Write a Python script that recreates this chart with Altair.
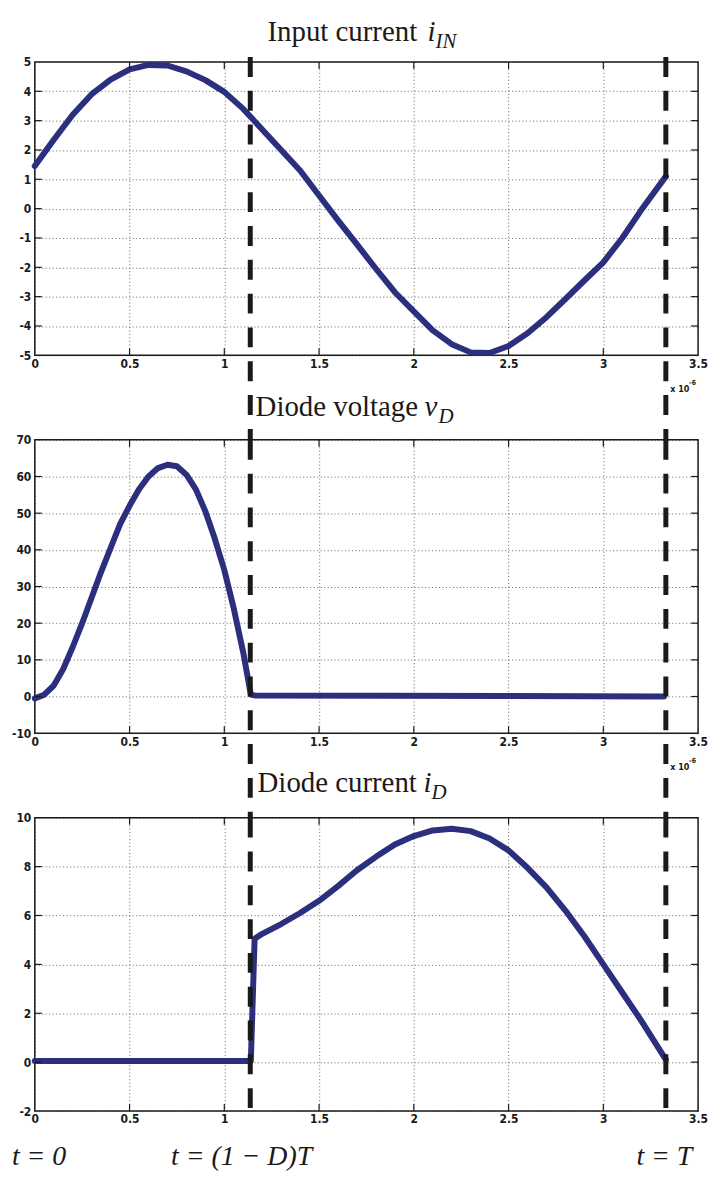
import altair as alt
import pandas as pd

# ---- waveforms (time in units of 1e-6 s) ----
t_in = [0.00, 0.10, 0.20, 0.30, 0.40, 0.50, 0.60, 0.70, 0.80, 0.90, 1.00, 1.10,
        1.20, 1.30, 1.40, 1.50, 1.60, 1.70, 1.80, 1.90, 2.00, 2.10, 2.20, 2.30,
        2.40, 2.50, 2.60, 2.70, 2.80, 2.90, 3.00, 3.10, 3.20, 3.33]
i_in = [1.45, 2.35, 3.20, 3.90, 4.40, 4.75, 4.90, 4.88, 4.68, 4.38, 3.98, 3.40,
        2.70, 2.00, 1.30, 0.45, -0.40, -1.22, -2.05, -2.85, -3.50, -4.15, -4.62, -4.90,
        -4.92, -4.68, -4.25, -3.70, -3.08, -2.45, -1.83, -1.00, -0.05, 1.10]

t_vd = [0.00, 0.05, 0.10, 0.15, 0.20, 0.25, 0.30, 0.35, 0.40, 0.45, 0.50, 0.55,
        0.60, 0.65, 0.70, 0.75, 0.80, 0.85, 0.90, 0.95, 1.00, 1.05, 1.10, 1.14,
        1.16, 3.32]
v_d = [-0.5, 0.5, 3.0, 7.5, 13.5, 20.0, 27.0, 34.0, 40.5, 47.0, 52.0, 56.5,
       60.0, 62.3, 63.2, 62.8, 60.5, 56.5, 50.5, 43.0, 34.5, 24.0, 12.0, 0.5,
       0.3, 0.0]

t_id = [0.00, 1.14, 1.16, 1.20, 1.30, 1.40, 1.50, 1.60, 1.70, 1.80, 1.90, 2.00,
        2.10, 2.20, 2.30, 2.40, 2.50, 2.60, 2.70, 2.80, 2.90, 3.00, 3.10, 3.20, 3.33]
i_d = [0.05, 0.05, 5.05, 5.25, 5.65, 6.10, 6.60, 7.20, 7.85, 8.40, 8.90, 9.25,
       9.48, 9.55, 9.45, 9.15, 8.66, 7.95, 7.15, 6.20, 5.15, 4.00, 2.85, 1.70, 0.10]

x_ticks = [0, 0.5, 1, 1.5, 2, 2.5, 3, 3.5]
yt_in = [-5, -4, -3, -2, -1, 0, 1, 2, 3, 4, 5]
yt_vd = [-10, 0, 10, 20, 30, 40, 50, 60, 70]
yt_id = [-2, 0, 2, 4, 6, 8, 10]

# switching instants t = (1-D)T and t = T
switch_t = [1.137, 3.33]

W, H = 667, 295
GAP = 85
LINE = "#2b2f7e"
INK = "#1a1a1a"
SERIF = "Liberation Serif"
TICKFONT = "Liberation Sans Narrow, DejaVu Sans Condensed, Liberation Sans"
PLAIN_NUM = "datum.value + ''"


def text(label, x, y, size, style="normal", weight="normal", font=SERIF, color=INK):
    return alt.Chart(alt.Data(values=[{}])).mark_text(
        text=label, font=font, fontSize=size, fontStyle=style, fontWeight=weight,
        align="left", baseline="alphabetic", color=color
    ).encode(x=alt.value(x), y=alt.value(y))


def title(name, sym, sub, x0, y0, x_sym, x_sub):
    return [(name, x0, y0, 29),
            (sym, x_sym, y0, 29, "italic"),
            (sub, x_sub, y0 + 7, 21, "italic")]


def panel(t, v, yticks, title_parts, top_ext, bottom_ext, extra=()):
    xs = alt.Scale(domain=[0, 3.5], nice=False, zero=False)
    ys = alt.Scale(domain=[yticks[0], yticks[-1]], nice=False, zero=False)
    xax = alt.Axis(values=x_ticks, labelExpr=PLAIN_NUM, grid=True)
    yax = alt.Axis(values=yticks, labelExpr=PLAIN_NUM, grid=True)

    def X(field):
        return alt.X(field, scale=xs, axis=xax, title=None)

    def Y(field):
        return alt.Y(field, scale=ys, axis=yax, title=None)

    curve = alt.Chart(pd.DataFrame({"t": t, "v": v})).mark_line(
        color=LINE, strokeWidth=6, strokeJoin="round", strokeCap="round"
    ).encode(x=X("t:Q"), y=Y("v:Q"))

    ydf = pd.DataFrame({"v": yticks[1:-1]})
    xdf = pd.DataFrame({"t": x_ticks[1:-1]})
    tick_style = dict(color=INK, strokeWidth=1.2)
    lt = alt.Chart(ydf).mark_rule(**tick_style).encode(
        y=Y("v:Q"), x=alt.value(0), x2=alt.value(7))
    rt = alt.Chart(ydf).mark_rule(**tick_style).encode(
        y=Y("v:Q"), x=alt.value(W - 7), x2=alt.value(W))
    bt = alt.Chart(xdf).mark_rule(**tick_style).encode(
        x=X("t:Q"), y=alt.value(H - 7), y2=alt.value(H))
    tt = alt.Chart(xdf).mark_rule(**tick_style).encode(
        x=X("t:Q"), y=alt.value(0), y2=alt.value(7))

    dashed = alt.Chart(pd.DataFrame({"t": switch_t})).mark_rule(
        color=INK, strokeWidth=5, strokeDash=[20, 14]
    ).encode(x=X("t:Q"), y=alt.value(-top_ext), y2=alt.value(H + bottom_ext))

    layers = [curve, lt, rt, bt, tt, dashed]
    layers += [text(*p) for p in title_parts]
    layers += list(extra)
    return alt.layer(*layers).properties(width=W, height=H)


def exponent_label():
    return [text("x 10", W - 28, H + 37, 9, weight="bold", font=TICKFONT),
            text("-6", W - 9, H + 30, 7, weight="bold", font=TICKFONT)]


p1 = panel(t_in, i_in, yt_in,
           title("Input current", "i", "IN", 234, -21, 395, 403),
           5, GAP, exponent_label())
p2 = panel(t_vd, v_d, yt_vd,
           title("Diode voltage", "v", "D", 222, -24, 392, 406),
           0, GAP, exponent_label())
p3 = panel(t_id, i_d, yt_id,
           title("Diode current", "i", "D", 224, -26, 391, 399),
           0, 2,
           [text("t = 0", -23, H + 54, 28, "italic"),
            text("t = (1 \u2212 D)T", 137, H + 54, 28, "italic"),
            text("t = T", 605, H + 54, 28, "italic")])

chart = alt.vconcat(p1, p2, p3, spacing=GAP, bounds="flush").properties(
    padding={"left": 10, "top": 14, "right": 0, "bottom": 0}
).configure_view(
    stroke=INK, strokeWidth=1.5
).configure_axis(
    domain=False, ticks=False, grid=True,
    gridColor="#333333", gridDash=[1, 2.5], gridWidth=1, gridOpacity=0.75,
    labelFont=TICKFONT, labelFontSize=12, labelFontWeight="bold",
    labelColor=INK, labelPadding=4,
).configure_axisX(labelFlush=False, labelPadding=3)

chart.save("out.html", embed_options={"renderer": "svg", "actions": False})
